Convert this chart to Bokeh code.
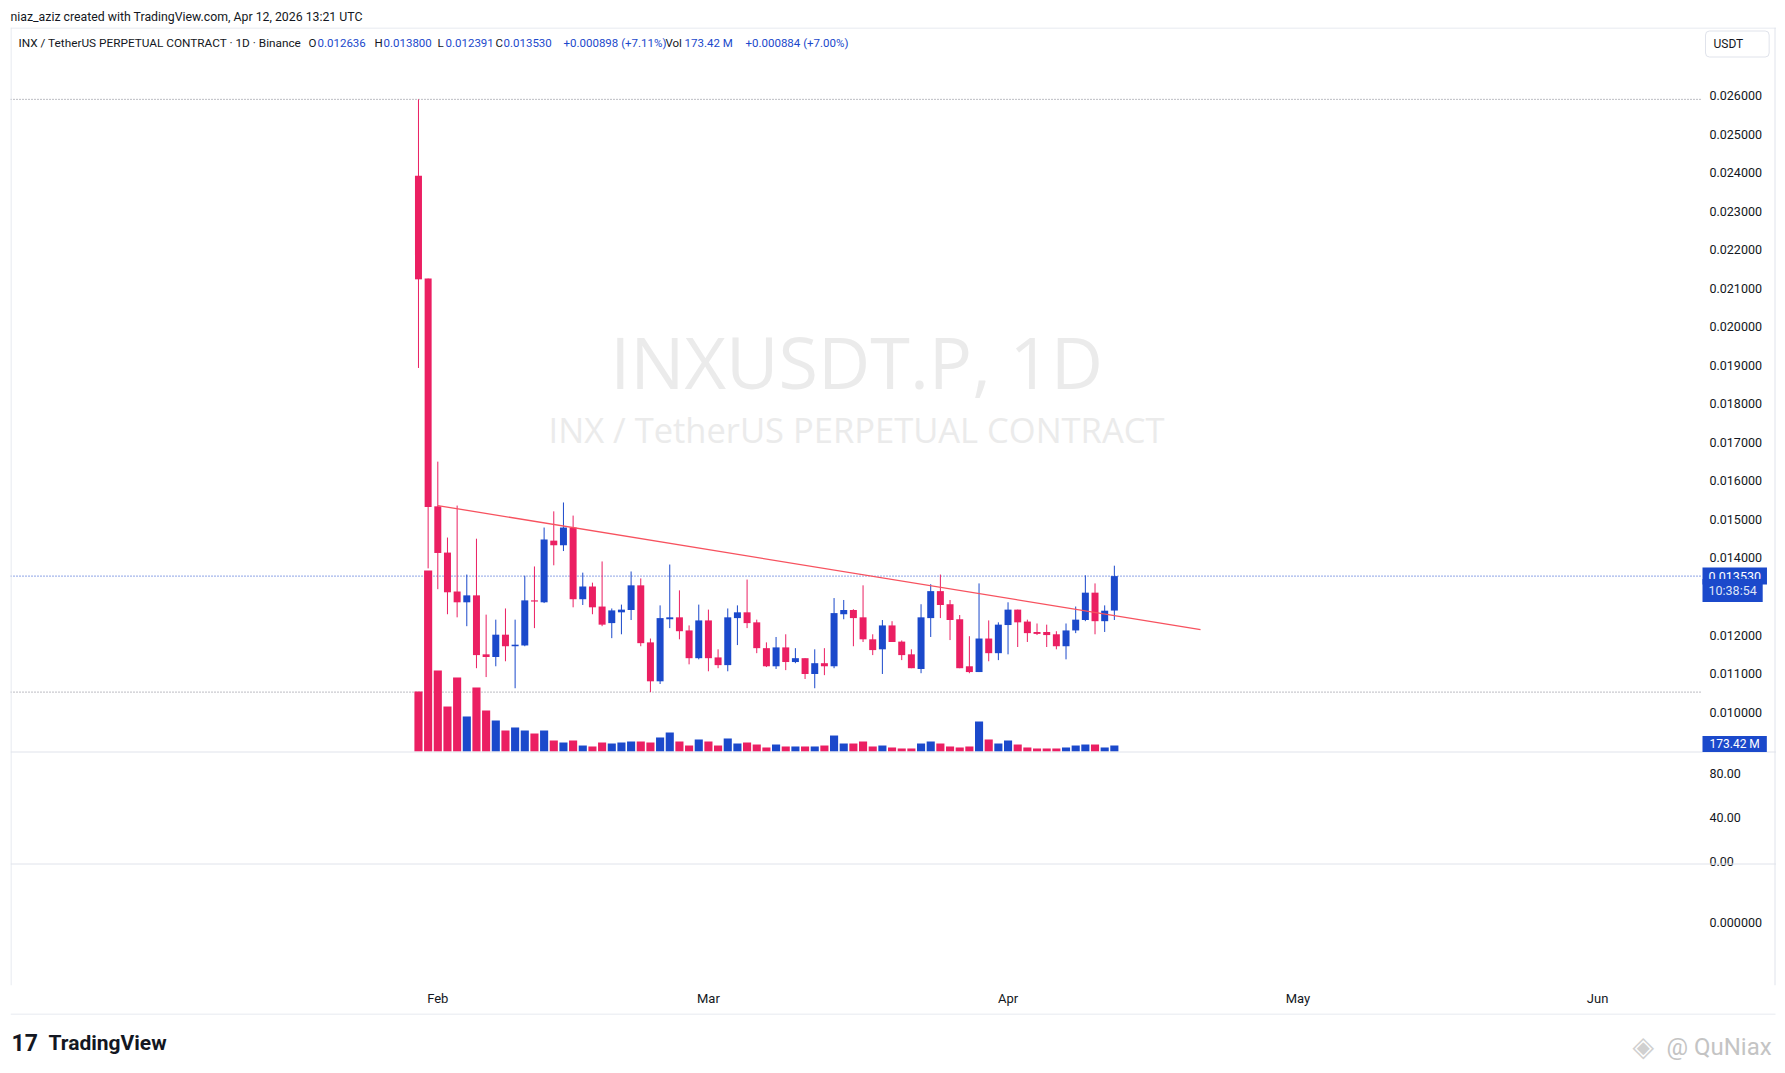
import numpy as np
import pandas as pd
from bokeh.plotting import figure
from bokeh.layouts import column
from bokeh.models import Range1d, FixedTicker, DatetimeTickFormatter, Span, Label, ColumnDataSource
from bokeh.core.properties import value
from bokeh.embed import file_html
from bokeh.resources import INLINE

# ---------------- data ----------------
start_date = "2026-01-30"
opens = [0.02392, 0.02125, 0.01534, 0.01414, 0.01313, 0.01285, 0.01303, 0.01150, 0.01143, 0.01201,
         0.01171, 0.01173, 0.01290, 0.01285, 0.01445, 0.01433, 0.01479, 0.01293, 0.01326, 0.01274,
         0.01231, 0.01259, 0.01265, 0.01329, 0.01181, 0.01080, 0.01241, 0.01246, 0.01212, 0.01140,
         0.01238, 0.01142, 0.01122, 0.01244, 0.01259, 0.01233, 0.01166, 0.01119, 0.01168, 0.01130,
         0.01140, 0.01099, 0.01127, 0.01119, 0.01254, 0.01265, 0.01246, 0.01189, 0.01163, 0.01225,
         0.01183, 0.01150, 0.01112, 0.01244, 0.01314, 0.01280, 0.01241, 0.01119, 0.01104, 0.01191,
         0.01153, 0.01226, 0.01266, 0.01235, 0.01208, 0.01208, 0.01202, 0.01171, 0.01212, 0.01239,
         0.01310, 0.01236, 0.012636]
highs = [0.02590, 0.02125, 0.01650, 0.01453, 0.01536, 0.01357, 0.01450, 0.01253, 0.01240, 0.01269,
         0.01240, 0.01354, 0.01378, 0.01479, 0.01521, 0.01544, 0.01510, 0.01362, 0.01336, 0.01391,
         0.01269, 0.01279, 0.01365, 0.01347, 0.01191, 0.01277, 0.01383, 0.01316, 0.01225, 0.01279,
         0.01266, 0.01163, 0.01269, 0.01277, 0.01344, 0.01240, 0.01181, 0.01195, 0.01202, 0.01166,
         0.01140, 0.01163, 0.01166, 0.01296, 0.01291, 0.01267, 0.01329, 0.01202, 0.01239, 0.01236,
         0.01186, 0.01163, 0.01280, 0.01332, 0.01357, 0.01291, 0.01252, 0.01197, 0.01334, 0.01238,
         0.01233, 0.01285, 0.01266, 0.01240, 0.01230, 0.01227, 0.01210, 0.01230, 0.01274, 0.01355,
         0.01334, 0.01277, 0.013800]
lows = [0.01893, 0.01373, 0.01319, 0.01254, 0.01246, 0.01223, 0.01114, 0.01091, 0.01119, 0.01132,
        0.01062, 0.01171, 0.01218, 0.01283, 0.01381, 0.01418, 0.01272, 0.01278, 0.01254, 0.01223,
        0.01192, 0.01202, 0.01239, 0.01171, 0.01052, 0.01073, 0.01218, 0.01189, 0.01124, 0.01137,
        0.01106, 0.01114, 0.01106, 0.01174, 0.01218, 0.01153, 0.01117, 0.01112, 0.01109, 0.01127,
        0.01086, 0.01062, 0.01096, 0.01114, 0.01241, 0.01171, 0.01182, 0.01148, 0.01099, 0.01182,
        0.01135, 0.01114, 0.01101, 0.01195, 0.01244, 0.01187, 0.01114, 0.01101, 0.01104, 0.01132,
        0.01135, 0.01150, 0.01169, 0.01182, 0.01200, 0.01169, 0.01163, 0.01137, 0.01205, 0.01236,
        0.01202, 0.01208, 0.012391]
closes = [0.02123, 0.01532, 0.01413, 0.01311, 0.01285, 0.01303, 0.01148, 0.01143, 0.01201, 0.01171,
          0.01175, 0.01290, 0.01287, 0.01448, 0.01433, 0.01479, 0.01293, 0.01326, 0.01272, 0.01227,
          0.01264, 0.01266, 0.01329, 0.01179, 0.01080, 0.01244, 0.01246, 0.01210, 0.01140, 0.01238,
          0.01140, 0.01122, 0.01246, 0.01259, 0.01231, 0.01166, 0.01119, 0.01168, 0.01130, 0.01140,
          0.01099, 0.01127, 0.01119, 0.01257, 0.01265, 0.01244, 0.01189, 0.01161, 0.01225, 0.01182,
          0.01148, 0.01114, 0.01246, 0.01314, 0.01278, 0.01239, 0.01114, 0.01104, 0.01191, 0.01153,
          0.01227, 0.01266, 0.01233, 0.01205, 0.01203, 0.01200, 0.01171, 0.01212, 0.01240, 0.01310,
          0.01236, 0.012632, 0.013530]
volumes_m = [1734, 5231, 2341, 1300, 2139, 1012, 1850, 1185, 896, 607,
             694, 607, 520, 607, 318, 260, 318, 173, 145, 260,
             231, 260, 289, 289, 260, 405, 549, 289, 173, 347,
             289, 173, 376, 231, 260, 202, 116, 202, 145, 145,
             145, 145, 173, 462, 231, 231, 289, 145, 173, 116,
             87, 87, 231, 289, 231, 145, 116, 145, 867, 347,
             231, 318, 202, 116, 87, 87, 87, 116, 173, 202,
             202, 116, 173.42]

month_ticks = ["2026-02-01", "2026-03-01", "2026-04-01", "2026-05-01", "2026-06-01"]
price_ticks = [0.010, 0.011, 0.012, 0.013, 0.014, 0.015, 0.016, 0.017, 0.018,
               0.019, 0.020, 0.021, 0.022, 0.023, 0.024, 0.025, 0.026]
ind_ticks = [80, 40, 0]
ind_labels = ["80.00", "40.00", "0.00"]
ind2_ticks = [0]
ind2_labels = ["0.000000"]
trend_dates = ["2026-02-01 00:00", "2026-04-20 22:00"]
trend_prices = [0.01536, 0.01214]

symbol_text = "INX / TetherUS PERPETUAL CONTRACT \u00b7 1D \u00b7 Binance"
created_text = "niaz_aziz created with TradingView.com, Apr 12, 2026 13:21 UTC"
vol_change_text = "+0.000884 (+7.00%)"
countdown_text = "10:38:54"
currency_text = "USDT"

# ---------------- styling / layout constants (page pixels) ----------------
RED = "#EB1F62"
BLUE = "#1B49CB"
TXT = "#131722"
BORDER = "#e0e3eb"
FONT = "Roboto"
W = 1776
H_MAIN, H_FOOT = 1013, 52
FRAME_L, FRAME_R, FRAME_T, FRAME_B = 10, W, 27, 985
AXIS_COL = 1700           # start of the price-scale column
REF_Y, REF_P, PX_PER_P = 95.0, 0.026, 38540.0
DAY_PX, FEB1_X = 9.665, 437.3
VOL_ZERO_Y, M_PER_PX = 751.0, 28.9
DAY_MS = 86400000.0
feb1 = pd.Timestamp("2026-02-01")


def price_at(page_y):
    return REF_P - (page_y - REF_Y) / PX_PER_P


def date_at(page_x):
    return feb1 + pd.Timedelta(days=(page_x - FEB1_X) / DAY_PX)


def sx(page_x):
    return page_x - FRAME_L


def sy(page_y):
    return FRAME_B - page_y


p = figure(width=W, height=H_MAIN, x_axis_type="datetime",
           x_range=Range1d(date_at(FRAME_L), date_at(FRAME_R)),
           y_range=Range1d(price_at(FRAME_B), price_at(FRAME_T)),
           y_axis_location=None,
           output_backend="svg", toolbar_location=None,
           min_border_left=FRAME_L, min_border_right=0,
           min_border_top=FRAME_T, min_border_bottom=H_MAIN - FRAME_B)
p.background_fill_color = "white"
p.border_fill_color = "white"
p.outline_line_color = None
p.xgrid.visible = False
p.ygrid.visible = False

p.title.text = created_text
p.title.align = "left"
p.title.text_font = FONT
p.title.text_font_size = "12.3px"
p.title.text_font_style = "normal"
p.title.text_color = TXT
p.title.standoff = 7
p.title.offset = 0

p.extra_y_ranges = {"vol": Range1d(-(FRAME_B - VOL_ZERO_Y) * M_PER_PX,
                                   (VOL_ZERO_Y - FRAME_T) * M_PER_PX)}

# ---------------- time axis ----------------
xax = p.xaxis[0]
month_ms = [pd.Timestamp(m).value / 1e6 for m in month_ticks]
xax.ticker = FixedTicker(ticks=month_ms, minor_ticks=[])
xax.formatter = DatetimeTickFormatter(days="%b", months="%b", years="%b", hours="%b",
                                      hourmin="%b", minutes="%b", minsec="%b",
                                      seconds="%b", milliseconds="%b", microseconds="%b")
xax.axis_line_color = None
xax.major_tick_line_color = None
xax.minor_tick_line_color = None
xax.major_tick_out = 0
xax.major_label_standoff = 5
xax.major_label_text_font = FONT
xax.major_label_text_font_size = "13px"
xax.major_label_text_color = TXT

# ---------------- frame border & pane separators ----------------
p.add_layout(Span(location=date_at(FRAME_L + 0.5), dimension="height", line_color=BORDER))
p.add_layout(Span(location=date_at(FRAME_R - 1.5), dimension="height", line_color=BORDER))
p.add_layout(Span(location=price_at(FRAME_T + 0.5), dimension="width", line_color=BORDER))
for py in (751.5, 863.5):
    p.add_layout(Span(location=price_at(py), dimension="width", line_color=BORDER))

# ---------------- watermark ----------------
p.add_layout(Label(x=sx(856), y=sy(360), x_units="screen", y_units="screen",
                   text="INXUSDT.P, 1D", text_align="center", text_baseline="middle",
                   text_font="Open Sans", text_font_size="72px", text_color="#ebebeb",
                   level="underlay"))
p.add_layout(Label(x=sx(856), y=sy(429), x_units="screen", y_units="screen",
                   text="INX / TetherUS PERPETUAL CONTRACT", text_align="center",
                   text_baseline="middle", text_font="Open Sans",
                   text_font_size="34.5px", text_color="#ebebeb", level="underlay"))

# ---------------- level lines (highest high, lowest low, last close) ----------------
x_left = date_at(FRAME_L)
x_col = date_at(AXIS_COL)
p.segment(x0=[x_left] * 2, x1=[x_col] * 2, y0=[max(highs), min(lows)],
          y1=[max(highs), min(lows)], line_color="#787b86", line_dash="1 2", line_width=1)
p.segment(x0=[x_left], x1=[x_col], y0=[closes[-1]], y1=[closes[-1]],
          line_color=BLUE, line_dash="1 2", line_width=1)

# ---------------- candles & volume ----------------
dates = pd.date_range(start_date, periods=len(opens), freq="D")
o = np.array(opens)
c = np.array(closes)
colors = np.where(c >= o, BLUE, RED)
src = ColumnDataSource(dict(date=dates, high=highs, low=lows,
                            top=np.maximum(o, c), bottom=np.minimum(o, c),
                            color=colors, vol=volumes_m))

p.vbar(x="date", width=0.84 * DAY_MS, top="vol", bottom=0, fill_color="color",
       line_color=None, y_range_name="vol", source=src)
p.segment(x0="date", y0="high", x1="date", y1="low", line_color="color",
          line_width=1, source=src)
p.vbar(x="date", width=0.724 * DAY_MS, top="top", bottom="bottom",
       fill_color="color", line_color=None, source=src)

p.line(x=pd.to_datetime(trend_dates), y=trend_prices, line_color="#F7525F",
       line_width=1.3)

# ---------------- price scale labels (placed on the price scale) ----------------
ind_pos = [price_at(861 - 1.1 * v) for v in ind_ticks]
ind2_pos = [price_at(922 - v) for v in ind2_ticks]
scale_y = price_ticks + ind_pos + ind2_pos
scale_txt = [f"{t:.6f}" for t in price_ticks] + ind_labels + ind2_labels
p.text(x=[date_at(AXIS_COL + 9)] * len(scale_y), y=scale_y, text=scale_txt,
       text_font=value(FONT), text_font_size="12.5px", text_color=TXT,
       text_baseline="middle", text_align="left")

# ---------------- header (legend line) ----------------
def lab(px, py, text, color=TXT, size="11.8px", font=FONT, style="normal", **kw):
    p.add_layout(Label(x=sx(px), y=sy(py), x_units="screen", y_units="screen",
                       text=text, text_color=color, text_font_size=size,
                       text_font=font, text_font_style=style,
                       text_baseline="middle", text_align="left", **kw))

hy = 42.0
lab(18, hy, symbol_text)
chg = closes[-1] - closes[-2]
pct = chg / closes[-2] * 100
segments = [(308, "O", TXT), (317, f"{opens[-1]:.6f}", BLUE),
            (374, "H", TXT), (383, f"{highs[-1]:.6f}", BLUE),
            (437, "L", TXT), (445, f"{lows[-1]:.6f}", BLUE),
            (495, "C", TXT), (503, f"{closes[-1]:.6f}", BLUE),
            (563, f"{chg:+.6f} ({pct:+.2f}%)", BLUE),
            (665, "Vol", TXT), (684, f"{volumes_m[-1]:.2f} M", BLUE),
            (745, vol_change_text, BLUE)]
for px, t, col in segments:
    lab(px, hy, t, col, "11.5px")

# ---------------- price-scale badges (x = box left edge) ----------------
lab(1702, 575.6, f"{closes[-1]:.6f}", "white", "12.5px",
    background_fill_color=BLUE, padding=(6, 4))
lab(1702, 590.0, countdown_text, "#dfe5f7", "12.5px",
    background_fill_color=BLUE, padding=(6, 4))
lab(1702, 743.5, f"{volumes_m[-1]:.2f} M", "white", "12px",
    background_fill_color=BLUE, padding=(7, 1))
lab(1705, 43.5, currency_text + "\u00a0" * 6, TXT, "12px",
    background_fill_color="white", border_line_color=BORDER,
    padding=(8, 6), border_radius=4)

# ---------------- footer (its frame is aligned with the main frame: x 10..1776) ----------------
foot = figure(width=W, height=H_FOOT, x_range=Range1d(FRAME_L, W),
              y_range=Range1d(H_MAIN + H_FOOT, H_MAIN),
              x_axis_location=None, y_axis_location=None,
              output_backend="svg", toolbar_location=None, min_border=0,
              min_border_left=0, min_border_right=0, min_border_top=0,
              min_border_bottom=0)
foot.outline_line_color = None
foot.xgrid.visible = False
foot.ygrid.visible = False
foot.background_fill_color = "white"
foot.border_fill_color = "white"
foot.segment(x0=[FRAME_L], x1=[1775], y0=[H_MAIN + 0.5], y1=[H_MAIN + 0.5],
             line_color=BORDER, line_width=1)


def flab(px, py, text, color, size, font=FONT, style="normal"):
    foot.add_layout(Label(x=px, y=py, text=text, text_color=color, text_font_size=size,
                          text_font=font, text_font_style=style,
                          text_baseline="middle", text_align="left"))


flab(11, 1042, "17", TXT, "23px", FONT, "bold")
flab(48, 1042, "TradingView", TXT, "21px", FONT, "bold")
flab(1632, 1046, "\u25c8", "#d0d0d0", "28px", "DejaVu Sans")
flab(1666, 1046, "@ QuNiax", "#c4c4c4", "24px")

layout = column(p, foot, spacing=0)
open("out.html", "w").write(file_html(layout, INLINE))
